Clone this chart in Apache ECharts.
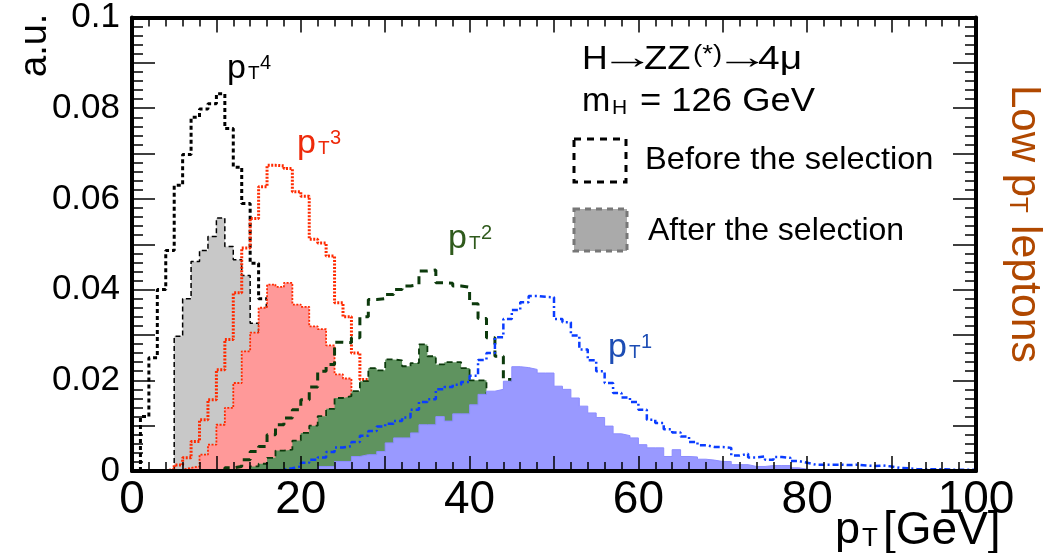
<!DOCTYPE html>
<html><head><meta charset="utf-8">
<script src="https://cdn.jsdelivr.net/npm/echarts/dist/echarts.min.js"></script>
<style>html,body{margin:0;padding:0;background:#fff}#c{width:1046px;height:553px}</style>
</head><body><div id="c"></div>
<script>
// ---------------- data (1 GeV bins; value of bin [k, k+1]) ----------------
const xTickValues = [0, 20, 40, 60, 80, 100];
const xTickLabels = ['0', '20', '40', '60', '80', '100'];
const yTickValues = [0, 0.02, 0.04, 0.06, 0.08, 0.1];
const yTickLabels = ['0', '0.02', '0.04', '0.06', '0.08', '0.1'];

// pT4 (4th lepton)
const pt4BeforeStart = 1;
const pt4Before = [0.012, 0.025, 0.040, 0.0486, 0.063, 0.0698, 0.078, 0.0798, 0.081, 0.0832, 0.0755, 0.067, 0.059, 0.0458, 0.038];
const pt4AfterStart = 5;
const pt4After = [0.0297, 0.038, 0.0462, 0.0486, 0.0517, 0.0558, 0.0495, 0.0466, 0.0431, 0.0326, 0.020, 0.007];
// pT3
const pt3BeforeStart = 4;
const pt3Before = [0.0004, 0.0013, 0.0029, 0.0065, 0.0113, 0.0157, 0.0223, 0.029, 0.0393, 0.0492, 0.0557, 0.0627, 0.0674, 0.0673, 0.0667, 0.0616, 0.0606, 0.0511, 0.0503, 0.0474, 0.0371, 0.034, 0.026, 0.0202, 0.012, 0.006, 0.002];
const pt3AfterStart = 5;
const pt3After = [0.0003, 0.0007, 0.001, 0.0036, 0.0058, 0.0102, 0.0139, 0.0194, 0.0264, 0.0305, 0.036, 0.0411, 0.0406, 0.0415, 0.0367, 0.0362, 0.0319, 0.0313, 0.0277, 0.0213, 0.0204, 0.016, 0.008, 0.003];
// pT2
const pt2BeforeStart = 11;
const pt2Before = [0.0007, 0.001, 0.0025, 0.0043, 0.0054, 0.008, 0.0102, 0.0117, 0.0135, 0.0157, 0.0185, 0.022, 0.0235, 0.0284, 0.0283, 0.0294, 0.034, 0.0378, 0.038, 0.0389, 0.040, 0.0408, 0.0411, 0.0441, 0.0443, 0.0415, 0.0414, 0.0408, 0.0405, 0.0369, 0.0336, 0.0294, 0.0253, 0.0202, 0.010, 0.004, 0.001];
const pt2AfterStart = 14;
const pt2After = [0.001, 0.0016, 0.0029, 0.0045, 0.0047, 0.0067, 0.0084, 0.010, 0.0121, 0.0137, 0.0161, 0.0165, 0.0176, 0.0198, 0.0227, 0.0222, 0.0246, 0.0244, 0.0231, 0.0238, 0.0279, 0.0253, 0.0235, 0.024, 0.024, 0.0227, 0.020, 0.020, 0.008, 0.003];
// pT1
const pt1BeforeStart = 17;
const pt1Before = [0.0003, 0.0006, 0.001, 0.0018, 0.0025, 0.003, 0.0042, 0.0052, 0.0055, 0.0064, 0.0078, 0.0088, 0.0098, 0.0104, 0.011, 0.0118, 0.0135, 0.0152, 0.0158, 0.018, 0.0185, 0.019, 0.0196, 0.021, 0.0245, 0.026, 0.0295, 0.0335, 0.0355, 0.0372, 0.0386, 0.0384, 0.0383, 0.0335, 0.0328, 0.0299, 0.0268, 0.0244, 0.022, 0.0194, 0.0172, 0.0162, 0.0152, 0.0135, 0.0113, 0.0106, 0.0092, 0.0085, 0.0076, 0.0064, 0.0057, 0.0053, 0.0053, 0.0051, 0.0034, 0.0038, 0.003, 0.0032, 0.0025, 0.0031, 0.0029, 0.0022, 0.0018, 0.0014, 0.0014, 0.0014, 0.0014, 0.0013, 0.0014, 0.0012, 0.0011, 0.0012, 0.001, 0.0007, 0.0006, 0.0004, 0.0004, 0.0004, 0.0004, 0.0003, 0.0003, 0.0003, 0.0003];
const pt1AfterStart = 22;
const pt1After = [0.001, 0.001, 0.0021, 0.0021, 0.0032, 0.0036, 0.0036, 0.0043, 0.0062, 0.0073, 0.0073, 0.0084, 0.0102, 0.0102, 0.012, 0.011, 0.0126, 0.0126, 0.0146, 0.0169, 0.0176, 0.018, 0.0198, 0.023, 0.0228, 0.0224, 0.0216, 0.0216, 0.0187, 0.018, 0.0161, 0.0143, 0.0128, 0.0118, 0.0099, 0.0082, 0.0078, 0.0073, 0.0058, 0.0051, 0.0051, 0.0032, 0.0047, 0.0032, 0.0031, 0.0026, 0.0024, 0.0021, 0.0021, 0.0014, 0.0014, 0.001, 0.001, 0.0012, 0.0012, 0.0012, 0.0007, 0.0004, 0.0002, 0.0002, 0.0002, 0.0002, 0.0002, 0.0002, 0.0002, 0.0002, 0.0002, 0.0002, 0.0002, 0.0002, 0.0002, 0.0002, 0.0002, 0.0002, 0.0002, 0.0002, 0.0002, 0.0002];

// ---------------- helpers ----------------
function hist(start, vals) {
  const d = [[start, 0]];
  vals.forEach((v, i) => d.push([start + i, v]));
  d.push([start + vals.length, 0]);
  return d;
}
function pickLabel(values, labels, v) {
  for (let i = 0; i < values.length; i++) if (Math.abs(values[i] - v) < 1e-9) return labels[i];
  return '';
}
const FONT = 'Liberation Sans';
function stepLine(name, start, vals, color, width, dash, fill, z) {
  return {
    name, type: 'line', step: 'end', symbol: 'none', silent: true, animation: false,
    data: hist(start, vals), z: z,
    lineStyle: { color, width, type: dash, cap: 'butt' },
    areaStyle: fill ? { color: fill, opacity: 1 } : undefined
  };
}
function txt(x, y, s, size, color, sx) {
  return { type: 'text', x, y, silent: true, scaleX: sx || 1,
    style: { text: s, fill: color, fontSize: size, fontFamily: FONT,
      textAlign: 'left', align: 'left', textVerticalAlign: 'middle', verticalAlign: 'middle' } };
}
function ptLabel(x, y, sup, color) {
  return [txt(x, y, 'p', 34, color), txt(x + 21, y + 5, 'T', 19, color), txt(x + 33, y - 6, sup, 20, color)];
}

const axisCommon = {
  type: 'value', z: 30,
  axisLine: { onZero: false, lineStyle: { color: '#000', width: 4 } },
  splitLine: { show: false }
};

const option = {
  animation: false,
  backgroundColor: '#fff',
  grid: { left: 132, right: 70, top: 17, bottom: 82 },
  xAxis: [
    Object.assign({}, axisCommon, {
      min: 0, max: 100, interval: 10, position: 'bottom',
      axisTick: { inside: true, length: 15, lineStyle: { color: '#000', width: 1.5 } },
      minorTick: { show: true, splitNumber: 5, length: 9, lineStyle: { color: '#000', width: 1.5 } },
      axisLabel: { margin: 6, fontSize: 46, fontFamily: FONT, color: '#000',
        formatter: v => pickLabel(xTickValues, xTickLabels, v) }
    }),
    Object.assign({}, axisCommon, {
      min: 0, max: 100, interval: 10, position: 'top',
      axisTick: { inside: true, length: 15, lineStyle: { color: '#000', width: 1.5 } },
      minorTick: { show: true, splitNumber: 5, length: 9, lineStyle: { color: '#000', width: 1.5 } },
      axisLabel: { show: false }
    })
  ],
  yAxis: [
    Object.assign({}, axisCommon, {
      min: 0, max: 0.1, interval: 0.01, position: 'left',
      axisTick: { inside: true, length: 23, lineStyle: { color: '#000', width: 1.5 } },
      minorTick: { show: true, splitNumber: 5, length: 11, lineStyle: { color: '#000', width: 1.5 } },
      axisLabel: { margin: 12, fontSize: 35, fontFamily: FONT, color: '#000',
        formatter: v => pickLabel(yTickValues, yTickLabels, v) }
    }),
    Object.assign({}, axisCommon, {
      min: 0, max: 0.1, interval: 0.01, position: 'right',
      axisTick: { inside: true, length: 23, lineStyle: { color: '#000', width: 1.5 } },
      minorTick: { show: true, splitNumber: 5, length: 11, lineStyle: { color: '#000', width: 1.5 } },
      axisLabel: { show: false }
    })
  ],
  series: [
    stepLine('pT4 after', pt4AfterStart, pt4After, '#000000', 1.5, [5, 3], '#c8c8c8', 2),
    stepLine('pT4 before', pt4BeforeStart, pt4Before, '#000000', 3, [4, 3], null, 3),
    stepLine('pT3 before', pt3BeforeStart, pt3Before, '#ff2a00', 3, [2, 1.5], null, 4),
    stepLine('pT3 after', pt3AfterStart, pt3After, '#ff2a00', 1.8, [2, 1.5], '#ff9999', 5),
    stepLine('pT2 before', pt2BeforeStart, pt2Before, '#0c3a0c', 3, [8, 6], null, 6),
    stepLine('pT2 after', pt2AfterStart, pt2After, '#0c3a0c', 1.8, [6, 4], '#5f935f', 7),
    stepLine('pT1 before', pt1BeforeStart, pt1Before, '#0a3cff', 2.5, [6, 3, 2, 3], null, 8),
    stepLine('pT1 after', pt1AfterStart, pt1After, '#8c8cff', 1, 'solid', '#9999ff', 9)
  ],
  graphic: { elements: [
    // legend
    { type: 'rect', silent: true, z: 40, shape: { x: 574, y: 139, width: 52, height: 43 },
      style: { fill: 'none', stroke: '#000', lineWidth: 3, lineDash: [7, 6] } },
    { type: 'rect', silent: true, z: 40, shape: { x: 574, y: 209, width: 53, height: 42 },
      style: { fill: '#aaaaaa', stroke: '#777777', lineWidth: 3, lineDash: [6, 5] } },
    txt(645, 160, 'Before the selection', 32, '#000', 1.02),
    txt(648, 231, 'After the selection', 32, '#000', 1.0),
    // process text
    txt(582, 60, 'H', 33, '#000', 1.08),
    txt(600, 59, '→', 33, '#000', 1.64),
    txt(644, 60, 'ZZ', 33, '#000', 1.15),
    txt(693, 56, '(*)', 23, '#000', 1.2),
    txt(715, 59, '→', 33, '#000', 1.64),
    txt(758, 60, '4μ', 33, '#000', 1.18),
    txt(582, 102, 'm', 34, '#000'),
    txt(612, 108, 'H', 21, '#000'),
    txt(640, 102, '= 126 GeV', 34, '#000', 1.07),
    // curve labels
    ...ptLabel(227, 69, '4', '#000000'),
    ...ptLabel(297, 144, '3', '#ee2a0a'),
    ...ptLabel(448, 239, '2', '#2f5a1c'),
    ...ptLabel(608, 348, '1', '#1d4db4'),
    // axis titles
    { type: 'group', x: 36, y: 77, rotation: Math.PI / 2, silent: true, children: [
      txt(0, 0, 'a.u.', 38, '#000') ] },
    txt(835, 531, 'p', 45, '#000'),
    txt(862, 539, 'T', 26, '#000'),
    txt(883, 531, '[GeV]', 46, '#000'),
    // side label
    { type: 'group', x: 1024, y: 85, rotation: -Math.PI / 2, silent: true, children: [
      txt(0, 0, 'Low p', 42, '#b04800'),
      txt(112, 7, 'T', 26, '#b04800'),
      txt(128, 0, ' leptons', 42, '#b04800', 1.02) ] }
  ] }
};
const chart = echarts.init(document.getElementById('c'), null, { renderer: 'canvas' });
chart.setOption(option);
</script></body></html>
